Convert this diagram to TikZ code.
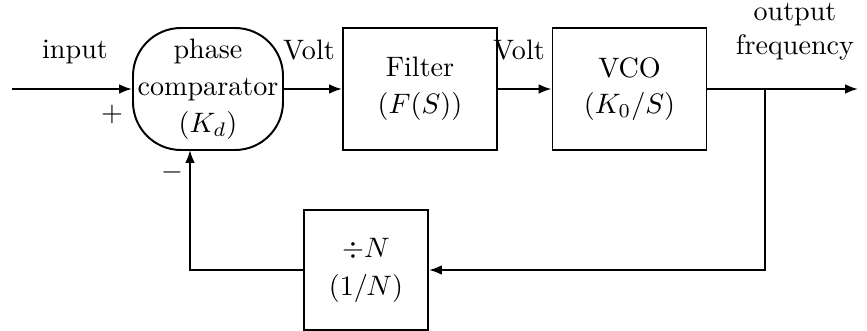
\documentclass[tikz,border=0pt]{standalone}
\usepackage{amsmath}
\usepackage{tikz}
\usetikzlibrary{arrows.meta, positioning}

\tikzset{
  blk/.style={draw, line width=0.7pt, minimum width=1.925cm, minimum height=1.525cm, align=center, inner sep=1pt},
  cmpbox/.style={draw, line width=0.7pt, rounded corners=0.6cm, minimum width=1.875cm, minimum height=1.525cm, align=center, inner sep=0pt},
  wire/.style={line width=0.7pt, -{Latex[length=1.6mm, width=1.2mm]}}
}

\begin{document}
\begin{tikzpicture}[x=0.125mm, y=-0.125mm]
    \useasboundingbox (0,0) rectangle (867,331);

    % blocks
    \node[cmpbox] (cmp) at (208,89) {phase\\[1.2pt]comparator\\[1.2pt]$(K_d)$};
    \node[blk] (filt) at (420,89) {Filter\\[1pt]$(F(S))$};
    \node[blk] (vco) at (629.5,89) {VCO\\[1pt]$(K_0/S)$};
    \node[blk, minimum width=1.55cm, minimum height=1.51cm] (div) at (366,270) {$\div N$\\[1.5pt]$(1/N)$};

    % free ends
    \coordinate (in) at (12,89);
    \coordinate (out) at (858,89);
    \coordinate (br) at (765,89);
    \coordinate (fb) at (190,150);

    % forward path
    \draw[wire] (in) -- (cmp);
    \draw[wire] (cmp) -- (filt);
    \draw[wire] (filt) -- (vco);
    \draw[wire] (vco) -- (out);

    % feedback path
    \draw[wire] (br) |- (div);
    \draw[wire] (div) -| (fb);

    % labels
    \node (lin) at (75,52) {input};
    \node (lplus) at (112,114) {$+$};
    \node (lminus) at (172,172) {$-$};
    \node (lv1) at (309,50) {Volt};
    \node (lv2) at (519,50) {Volt};
    \node[align=center] (lout) at (795,32) {output\\frequency};
\end{tikzpicture}
\end{document}
